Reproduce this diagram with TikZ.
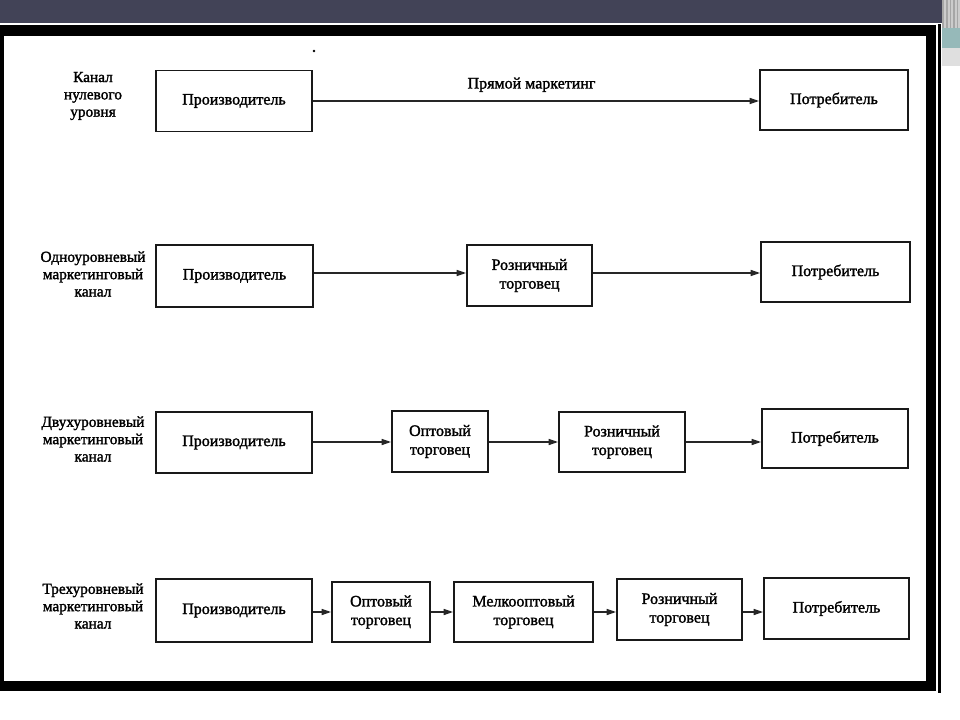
\documentclass[tikz,border=0pt]{standalone}
\usepackage{fontspec}
\setmainfont[FakeBold=1.6]{Liberation Serif}
\usetikzlibrary{arrows.meta}
\definecolor{barcol}{RGB}{66,67,87}
\definecolor{tealdec}{RGB}{150,185,185}
\tikzset{
  box/.style={draw=black!90, line width=1.4pt, fill=white, inner sep=0pt, align=center,
    font=\fontsize{12}{14}\selectfont},
  arr/.style={draw=black!85, line width=1pt, -{Triangle[length=7pt,width=4.5pt]}},
  lbl/.style={align=center, font=\fontsize{11.5}{13}\selectfont, inner sep=0pt},
}
\newcommand\mybox[6]{\node[box, minimum width=#4*0.75pt, minimum height=#5*0.75pt] (#1) at (#2,#3) {#6};}
\begin{document}
\begin{tikzpicture}[x=0.75pt,y=-0.75pt]
\useasboundingbox (0,0) rectangle (960,720);
% background decoration
\fill[barcol] (0,0) rectangle (960,23);
\fill[black] (0,25) rectangle (936,691);
\fill[white] (4,36) rectangle (926,681);
\fill[black] (938,24) rectangle (941,693);
\fill[gray!70] (942,0) rectangle (960,28);
\foreach \xx in {944,948,951,955,958} \fill[gray!40] (\xx,0) rectangle (\xx+1.5,28);
\fill[tealdec] (942,28) rectangle (960,48);
\fill[gray!25] (942,48) rectangle (960,66);
\fill[black] (314,51) circle (1.3);
% row 1
\node[lbl] (L1) at (93,96) {Канал\\нулевого\\уровня};
\mybox{P1}{234}{101}{156}{61}{Производитель}
\mybox{C1}{834}{100}{148}{60}{Потребитель}
\draw[arr] (P1.east |- 0,101) -- (C1.west |- 0,101) node[pos=0.49, above=3pt, font=\fontsize{12}{14}\selectfont] (T1) {Прямой маркетинг};
% row 2
\node[lbl] (L2) at (93,274) {Одноуровневый\\маркетинговый\\канал};
\mybox{P2}{234.5}{276}{157}{62}{Производитель}
\mybox{R2}{529.5}{275.5}{125}{61}{Розничный\\торговец}
\mybox{C2}{835.5}{272}{149}{60}{Потребитель}
\draw[arr] (P2.east |- 0,273) -- (R2.west |- 0,273);
\draw[arr] (R2.east |- 0,273) -- (C2.west |- 0,273);
% row 3
\node[lbl] (L3) at (93,439) {Двухуровневый\\маркетинговый\\канал};
\mybox{P3}{234}{442.5}{156}{61}{Производитель}
\mybox{O3}{440}{441.5}{96}{61}{Оптовый\\торговец}
\mybox{R3}{622}{442}{126}{60}{Розничный\\торговец}
\mybox{C3}{835}{438.5}{146}{59}{Потребитель}
\draw[arr] (P3.east |- 0,442) -- (O3.west |- 0,442);
\draw[arr] (O3.east |- 0,442) -- (R3.west |- 0,442);
\draw[arr] (R3.east |- 0,442) -- (C3.west |- 0,442);
% row 4
\node[lbl] (L4) at (93,606) {Трехуровневый\\маркетинговый\\канал};
\mybox{P4}{234}{610.5}{156}{63}{Производитель}
\mybox{O4}{381}{612}{98}{60}{Оптовый\\торговец}
\mybox{M4}{523.5}{612}{139}{60}{Мелкооптовый\\торговец}
\mybox{R4}{679.5}{609.5}{125}{61}{Розничный\\торговец}
\mybox{C4}{836.5}{608.5}{145}{61}{Потребитель}
\draw[arr] (P4.east |- 0,612) -- (O4.west |- 0,612);
\draw[arr] (O4.east |- 0,612) -- (M4.west |- 0,612);
\draw[arr] (M4.east |- 0,612) -- (R4.west |- 0,612);
\draw[arr] (R4.east |- 0,612) -- (C4.west |- 0,612);
\end{tikzpicture}
\end{document}
